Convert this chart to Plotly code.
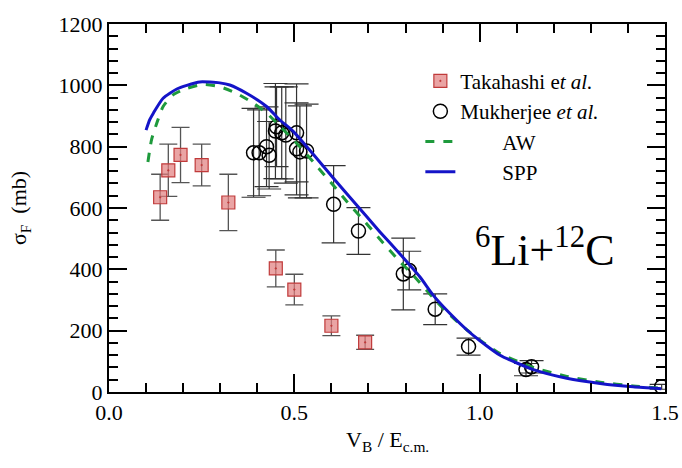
import plotly.graph_objects as go

# Takahashi et al. data
tak_x = [0.138, 0.160, 0.193, 0.250, 0.322, 0.450, 0.500, 0.600, 0.691]
tak_y = [635, 723, 773, 740, 618, 403, 334, 216, 162]
tak_err = [75, 85, 90, 68, 92, 60, 50, 32, 23]

# Mukherjee et al. data
muk_x = [0.390, 0.405, 0.425, 0.432, 0.449, 0.452, 0.466, 0.477, 0.506, 0.506, 0.515, 0.533,
         0.606, 0.673, 0.794, 0.810, 0.880, 0.970, 1.125, 1.140, 1.491]
muk_y = [780, 780, 800, 772, 851, 865, 845, 838, 845, 793, 783, 786,
         612, 525, 385, 396, 270, 148, 73, 82, 17]
muk_err = [145, 140, 130, 110, 155, 130, 150, 157, 160, 150, 150, 153,
           126, 76, 117, 63, 50, 28, 20, 20, 8]

# AW curve
aw_x = [0.105, 0.110, 0.115, 0.129, 0.146, 0.173, 0.210, 0.254, 0.300, 0.344, 0.389, 0.425,
        0.461, 0.515, 0.551, 0.605, 0.641, 0.695, 0.731, 0.785, 0.821, 0.875, 0.910, 0.965,
        1.000, 1.055, 1.145, 1.235, 1.325, 1.414, 1.490]
aw_y = [750, 790, 824, 877, 931, 969, 990, 1003, 995, 974, 942, 910,
        867, 800, 750, 674, 622, 549, 498, 425, 380, 307, 262, 203,
        170, 125, 80, 51, 32, 20, 12]

# SPP curve
spp_x = [0.100, 0.110, 0.120, 0.146, 0.183, 0.210, 0.245, 0.299, 0.326, 0.371, 0.425, 0.461,
         0.497, 0.551, 0.605, 0.641, 0.695, 0.731, 0.785, 0.839, 0.875, 0.910, 0.965, 1.000,
         1.055, 1.145, 1.235, 1.325, 1.414, 1.490]
spp_y = [854, 888, 910, 958, 988, 1000, 1011, 1008, 1001, 974, 931, 887,
         850, 775, 698, 647, 572, 522, 450, 375, 315, 268, 203, 168,
         120, 73, 45, 28, 17, 11]

serif = "Times New Roman"

fig = go.Figure()
fig.add_trace(go.Scatter(
    x=tak_x, y=tak_y, mode="markers", name="Takahashi e<i>t al.</i>",
    error_y=dict(type="data", array=tak_err, color="#555555", thickness=1.3, width=9),
    marker=dict(symbol="square-dot", size=13, color="rgba(225,125,125,0.7)",
                line=dict(color="#c03a3a", width=1.2)),
))
fig.add_trace(go.Scatter(
    x=muk_x, y=muk_y, mode="markers", name="Mukherjee <i>et al.</i>",
    error_y=dict(type="data", array=muk_err, color="#333333", thickness=1.2, width=12),
    marker=dict(symbol="circle-open", size=14, color="black", line=dict(width=1.5)),
))
fig.add_trace(go.Scatter(
    x=aw_x, y=aw_y, mode="lines", name="\u00a0" * 8 + "AW",
    line=dict(color="#1e9a3c", width=3, dash="dash", shape="spline", smoothing=0.6),
))
fig.add_trace(go.Scatter(
    x=spp_x, y=spp_y, mode="lines", name="\u00a0" * 8 + "SPP",
    line=dict(color="#1414c8", width=3, shape="spline", smoothing=0.6),
))

fig.add_annotation(
    x=1.175, y=470, xref="x", yref="y", text="<sup>6</sup>Li+<sup>12</sup>C",
    showarrow=False, font=dict(family=serif, size=44, color="black"),
)
# x-axis title
fig.add_annotation(
    x=0.5, y=-0.132, xref="paper", yref="paper", xanchor="center", yanchor="middle",
    text="V<sub>B</sub> / E<sub>c.m.</sub>", showarrow=False,
    font=dict(family=serif, size=22, color="black"),
)

fig.update_xaxes(
    showline=True, linecolor="black", linewidth=2, mirror="allticks",
    ticks="inside", ticklen=18, tickwidth=2, tickcolor="black",
    showgrid=False, zeroline=False, automargin=False,
    tickfont=dict(family=serif, size=22),
    range=[0, 1.5], dtick=0.5, tickformat=".1f",
    minor=dict(ticks="inside", ticklen=9, tickwidth=1.5, dtick=0.1, tickcolor="black"),
)
fig.update_yaxes(
    showline=True, linecolor="black", linewidth=2, mirror="allticks",
    ticks="inside", ticklen=18, tickwidth=2, tickcolor="black",
    showgrid=False, zeroline=False,
    tickfont=dict(family=serif, size=22),
    range=[0, 1200], dtick=200,
    minor=dict(ticks="inside", ticklen=9, tickwidth=1.5, dtick=40, tickcolor="black"),
    title=dict(text="σ<sub>F</sub>  (mb)", font=dict(family=serif, size=22), standoff=26),
)

fig.update_layout(
    width=682, height=468,
    margin=dict(l=109, r=17, t=20, b=76),
    paper_bgcolor="white", plot_bgcolor="white",
    font=dict(family=serif, size=22, color="black"),
    showlegend=True,
    legend=dict(x=0.56, y=0.9, xanchor="left", yanchor="top",
                font=dict(family=serif, size=21),
                bgcolor="rgba(0,0,0,0)", tracegroupgap=0),
)

fig.write_html("out.html")
